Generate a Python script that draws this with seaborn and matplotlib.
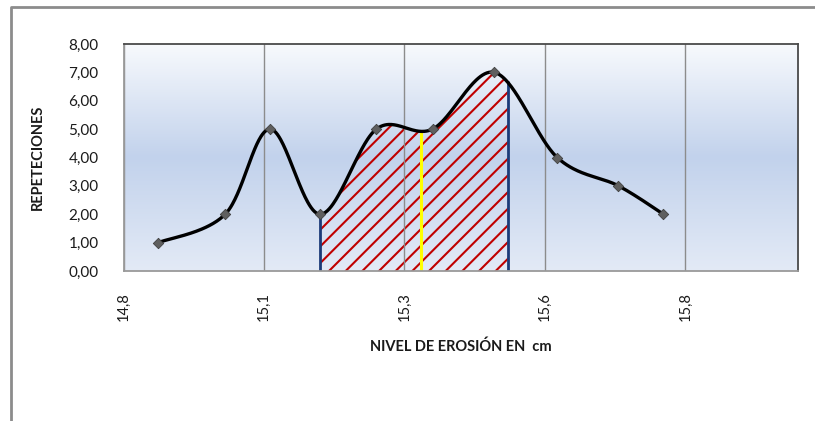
import numpy as np
import pandas as pd
import matplotlib
matplotlib.use("Agg")
import matplotlib.pyplot as plt
import seaborn as sns
from matplotlib.lines import Line2D
from matplotlib.colors import LinearSegmentedColormap

# ---- data ----
nivel = [14.862, 14.981, 15.061, 15.150, 15.250, 15.350, 15.460, 15.572, 15.681, 15.761]
repeticiones = [1, 2, 5, 2, 5, 5, 7, 4, 3, 2]
x_ticks = [14.8, 15.05, 15.3, 15.55, 15.8]
x_tick_labels = ["14,8", "15,1", "15,3", "15,6", "15,8"]
y_ticks = [0, 1, 2, 3, 4, 5, 6, 7, 8]
y_tick_labels = ["0,00", "1,00", "2,00", "3,00", "4,00", "5,00", "6,00", "7,00", "8,00"]
area_inicio = 15.150
area_fin = 15.484
media = 15.33
x_limits = (14.8, 16.0)
y_limits = (0, 8)


def excel_smooth(xs, ys, n=60):
    p = np.column_stack([xs, ys]).astype(float)
    ext = np.vstack([p[0], p, p[-1]])
    out = []
    t = np.linspace(0, 1, n)[:, None]
    for i in range(len(p) - 1):
        p0, p1, p2, p3 = ext[i], ext[i + 1], ext[i + 2], ext[i + 3]
        c1 = p1 + (p2 - p0) / 6.0
        c2 = p2 - (p3 - p1) / 6.0
        seg = ((1 - t) ** 3) * p1 + 3 * ((1 - t) ** 2) * t * c1 + 3 * (1 - t) * t ** 2 * c2 + t ** 3 * p2
        out.append(seg if i == 0 else seg[1:])
    s = np.vstack(out)
    return s[:, 0], s[:, 1]


sns.set_theme(style="white")
plt.rcParams['font.family'] = ['Lato', 'DejaVu Sans']
plt.rcParams['hatch.linewidth'] = 1.5

fig = plt.figure(figsize=(8.15, 4.21), dpi=100)
fig.patch.set_facecolor("white")
ax = fig.add_axes([123.5 / 815, 1 - 271 / 421, (797.7 - 123.5) / 815, (271 - 44) / 421])

# gradient background
cmap = LinearSegmentedColormap.from_list(
    "bg", [(0.0, "#E3EAF6"), (0.5, "#C2D2EC"), (1.0, "#F8FAFD")])
grad = np.linspace(0, 1, 256)[:, None]
ax.imshow(grad, extent=[x_limits[0], x_limits[1], y_limits[0], y_limits[1]],
          origin="lower", aspect="auto", cmap=cmap, zorder=0)

xc, yc = excel_smooth(nivel, repeticiones)
curve = pd.DataFrame({"x": xc, "y": yc})

# hatched area
mask = (xc > area_inicio) & (xc < area_fin)
y_start = np.interp(area_inicio, xc, yc)
y_end = np.interp(area_fin, xc, yc)
y_mean = np.interp(media, xc, yc)
xf = np.concatenate([[area_inicio], xc[mask], [area_fin]])
yf = np.concatenate([[y_start], yc[mask], [y_end]])
ax.fill_between(xf, 0, yf, facecolor="none", edgecolor="#C00000", hatch="//", linewidth=0, zorder=2)
ax.plot([area_inicio, area_inicio], [0, y_start], color="#1B3A78", lw=2, zorder=3)
ax.plot([area_fin, area_fin], [0, y_end], color="#1B3A78", lw=2, zorder=3)
ax.plot([media, media], [0, y_mean], color="#FFFF00", lw=2.2, zorder=3)

sns.lineplot(data=curve, x="x", y="y", sort=False, estimator=None, color="black",
             lw=2.4, ax=ax, zorder=4)
sns.scatterplot(x=nivel, y=repeticiones, marker="D", s=28, color="#5F5F5F",
                edgecolor="#404040", linewidth=0.6, ax=ax, zorder=5)

ax.set_xlim(*x_limits)
ax.set_ylim(*y_limits)
ax.set_xticks(x_ticks)
ax.set_xticklabels(x_tick_labels, rotation=90, fontsize=10.5)
ax.set_yticks(y_ticks)
ax.set_yticklabels(y_tick_labels, fontsize=11)
ax.tick_params(axis="both", direction="out", length=5, width=1, color="#8C8C8C", labelcolor="#1a1a1a")
ax.tick_params(axis="x", pad=10)
ax.tick_params(axis="y", pad=13)
ax.grid(axis="x", color="#8C8C8C", lw=1, zorder=1)
ax.grid(axis="y", visible=False)
ax.set_axisbelow(False)
ax.set_xlabel("")
ax.set_ylabel("")
for side in ["top", "right"]:
    ax.spines[side].set_color("#4A4A4A")
    ax.spines[side].set_linewidth(1.3)
for side in ["left", "bottom"]:
    ax.spines[side].set_color("#9A9A9A")
    ax.spines[side].set_linewidth(1.3)
for sp in ax.spines.values():
    sp.set_zorder(6)

fig.text(38 / 815, 1 - 157 / 421, "REPETECIONES", rotation=90, ha="center", va="center",
         fontsize=10.5, fontweight="bold", color="#1a1a1a")
fig.text(461 / 815, 1 - 347 / 421, "NIVEL DE EROSIÓN EN  cm", ha="center", va="center",
         fontsize=10.5, fontweight="bold", color="#1a1a1a")

# outer chart frame
fig.add_artist(Line2D([10.5 / 815, 10.5 / 815, 1.0], [0, 1 - 7 / 421, 1 - 7 / 421],
                      transform=fig.transFigure, color="#8C8C8C", lw=2))

fig.savefig("out.png", dpi=100, facecolor="white")
